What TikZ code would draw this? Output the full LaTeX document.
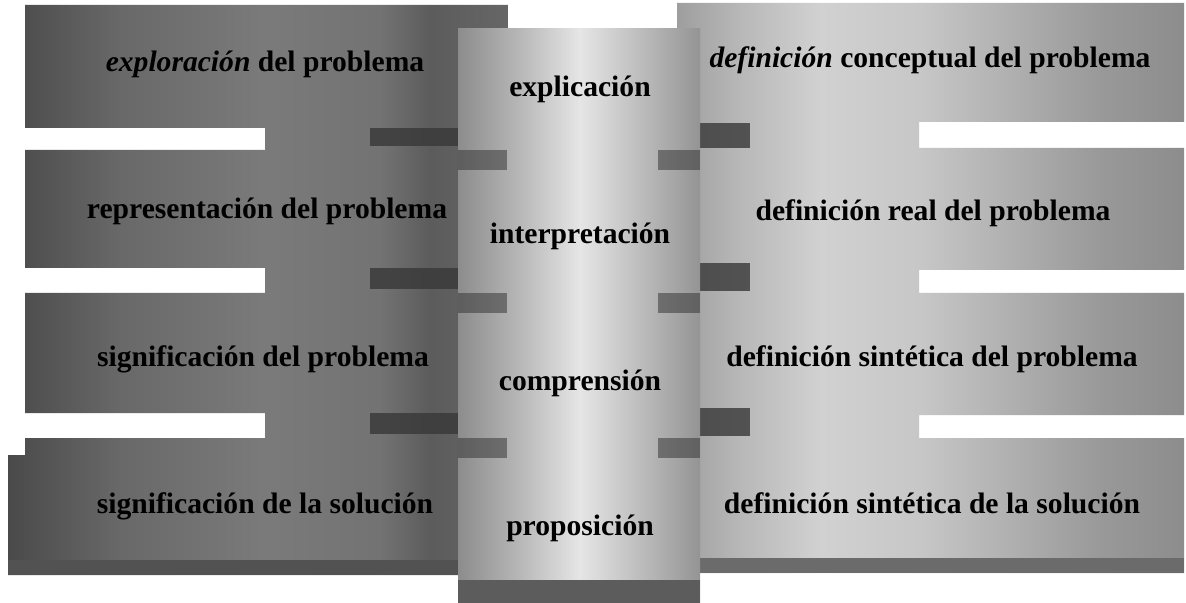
\documentclass[tikz,border=0pt]{standalone}
\usepackage{fontspec}
\setmainfont{Liberation Serif}
\definecolor{lA}{gray}{0.28}
\definecolor{lB}{gray}{0.41}
\definecolor{lC}{gray}{0.48}
\definecolor{lD}{gray}{0.45}
\definecolor{lE}{gray}{0.36}
\definecolor{lF}{gray}{0.40}
\definecolor{mA}{gray}{0.55}
\definecolor{mB}{gray}{0.72}
\definecolor{mC}{gray}{0.90}
\definecolor{mD}{gray}{0.74}
\definecolor{mE}{gray}{0.58}
\definecolor{rA}{gray}{0.62}
\definecolor{rB}{gray}{0.72}
\definecolor{rC}{gray}{0.82}
\definecolor{rD}{gray}{0.78}
\definecolor{rE}{gray}{0.68}
\definecolor{rF}{gray}{0.60}
\definecolor{rG}{gray}{0.55}
\definecolor{patch}{gray}{0.22}
\definecolor{bandL}{gray}{0.32}
\definecolor{bandM}{gray}{0.36}
\definecolor{bandR}{gray}{0.42}
\tikzset{
  lbl/.style={font=\fontsize{14.8}{17}\selectfont\bfseries, text=black, inner sep=0pt, anchor=base},
  darkpatch/.style={fill=patch, opacity=0.8},
}
\begin{document}
\begin{tikzpicture}[x=0.5pt,y=-0.5pt]
\useasboundingbox (0,0) rectangle (1186,603);
\fill[white] (0,0) rectangle (1186,603);
% left mass
\begin{scope}
\clip (25,5) -- (508,5) -- (508,575) -- (8,575) -- (8,455) -- (25,455) -- (25,438) -- (265,438) -- (265,413) -- (25,413) -- (25,293) -- (265,293) -- (265,268) -- (25,268) -- (25,150) -- (265,150) -- (265,128) -- (25,128) -- cycle;
\shade[left color=lA, right color=lB] (0,0) rectangle (120,603);
\shade[left color=lB, right color=lC] (120,0) rectangle (265,603);
\shade[left color=lC, right color=lD] (265,0) rectangle (380,603);
\shade[left color=lD, right color=lE] (380,0) rectangle (430,603);
\shade[left color=lE, right color=lF] (430,0) rectangle (508,603);
\fill[bandL] (0,560) rectangle (508,575);
\end{scope}
% right mass
\begin{scope}
\clip (677,3) -- (1184,3) -- (1184,122) -- (919,122) -- (919,148) -- (1184,148) -- (1184,270) -- (919,270) -- (919,293) -- (1184,293) -- (1184,415) -- (919,415) -- (919,438) -- (1184,438) -- (1184,573) -- (677,573) -- cycle;
\shade[left color=rA, right color=rB] (677,0) rectangle (740,603);
\shade[left color=rB, right color=rC] (740,0) rectangle (820,603);
\shade[left color=rC, right color=rD] (820,0) rectangle (920,603);
\shade[left color=rD, right color=rE] (920,0) rectangle (1020,603);
\shade[left color=rE, right color=rF] (1020,0) rectangle (1100,603);
\shade[left color=rF, right color=rG] (1100,0) rectangle (1186,603);
\fill[bandR] (677,558) rectangle (1184,573);
\end{scope}
% dark patches at the row joints
\foreach \a/\b in {128/150, 268/293, 413/438} {
  \fill[darkpatch] (370,\a) rectangle (458,\b-4);
  \fill[darkpatch] (700,\a-5) rectangle (750,\b-2);
}
% middle column
\begin{scope}
\clip (458,29) rectangle (700,603);
\shade[left color=mA, right color=mB] (458,0) rectangle (520,603);
\shade[left color=mB, right color=mC] (520,0) rectangle (580,603);
\shade[left color=mC, right color=mD] (580,0) rectangle (640,603);
\shade[left color=mD, right color=mE] (640,0) rectangle (700,603);
\fill[bandM] (458,580) rectangle (700,603);
\foreach \a/\b in {128/150, 268/293, 413/438} {
  \fill[darkpatch, opacity=0.55] (458,\b) rectangle (507,\b+20);
  \fill[darkpatch, opacity=0.55] (658,\b) rectangle (700,\b+20);
}
\end{scope}
% texts
\node[lbl] (l1) at (265,72) {\textit{exploración} del problema};
\node[lbl] (l2) at (267,219) {representación del problema};
\node[lbl] (l3) at (263,366) {significación del problema};
\node[lbl] (l4) at (265,513) {significación de la solución};
\node[lbl] (m1) at (580,97) {explicación};
\node[lbl] (m2) at (580,244) {interpretación};
\node[lbl] (m3) at (580,390) {comprensión};
\node[lbl] (m4) at (580,535) {proposición};
\node[lbl] (r1) at (930,68) {\textit{definición} conceptual del problema};
\node[lbl] (r2) at (933,221) {definición real del problema};
\node[lbl] (r3) at (932,366) {definición sintética del problema};
\node[lbl] (r4) at (932,513) {definición sintética de la solución};
\end{tikzpicture}
\end{document}
